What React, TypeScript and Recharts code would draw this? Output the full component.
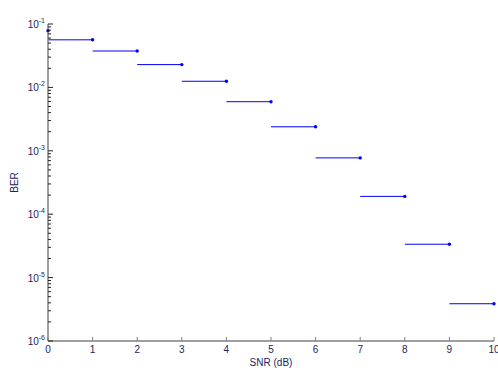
import React from "react";
import { ComposedChart, Line, XAxis, YAxis, Label } from "recharts";

// theoretical BPSK/QPSK bit error rate per SNR step
const snrDb = [0, 1, 2, 3, 4, 5, 6, 7, 8, 9, 10];
const ber = [
  0.0786, 0.0563, 0.0375, 0.0229, 0.0125, 0.00595, 0.00239, 0.000773,
  0.000191, 0.0000336, 0.00000387,
];
const xTicks = [0, 1, 2, 3, 4, 5, 6, 7, 8, 9, 10];
const decadeTicks = [1e-6, 1e-5, 1e-4, 1e-3, 1e-2, 1e-1];
const minorSteps = [2, 3, 4, 5, 6, 7, 8, 9];

const AXIS = "#7f7f7f";
const TEXT = "#24245a";
const FONT = "'Liberation Sans', Arial, sans-serif";

const yTicks = [
  ...decadeTicks,
  ...decadeTicks.slice(0, -1).flatMap((d) => minorSteps.map((m) => d * m)),
].sort((a, b) => a - b);

// horizontal steps: segment i..i+1 at ber[i+1], dot on the right end
const stepData: { snr: number; ber: number | null; end?: boolean }[] = [
  { snr: snrDb[0], ber: ber[0], end: true },
  { snr: snrDb[0], ber: null },
];
for (let i = 0; i < snrDb.length - 1; i++) {
  stepData.push({ snr: snrDb[i], ber: ber[i + 1] });
  stepData.push({ snr: snrDb[i + 1], ber: ber[i + 1], end: true });
  stepData.push({ snr: snrDb[i + 1], ber: null });
}

const isDecade = (v: number) => {
  const l = Math.log10(v);
  return Math.abs(l - Math.round(l)) < 1e-6;
};

const LeftTick = (props: any) => {
  const { x, y, payload } = props;
  const major = isDecade(payload.value);
  const exp = Math.round(Math.log10(payload.value));
  return (
    <g>
      <line x1={x} x2={x + (major ? 5 : 3)} y1={y} y2={y} stroke="#222" />
      {major && (
        <text x={x - 3} y={y + 4} textAnchor="end" fontSize={10} fill={TEXT} fontFamily={FONT}>
          10
          <tspan dy={-5} fontSize={7}>{exp}</tspan>
        </text>
      )}
    </g>
  );
};

const RightTick = (props: any) => {
  const { x, y, payload } = props;
  const major = isDecade(payload.value);
  return <line x1={x} x2={x - (major ? 5 : 3)} y1={y} y2={y} stroke="#222" />;
};

const BottomTick = (props: any) => {
  const { x, y, payload } = props;
  return (
    <g>
      <line x1={x} x2={x} y1={y} y2={y - 4} stroke={AXIS} />
      <text x={x} y={y + 12} textAnchor="middle" fontSize={10} fill={TEXT} fontFamily={FONT}>
        {payload.value}
      </text>
    </g>
  );
};

const TopTick = (props: any) => {
  const { x, y } = props;
  return <line x1={x} x2={x} y1={y} y2={y + 3} stroke={AXIS} />;
};

const StepDot = (props: any) => {
  const { cx, cy, payload, index } = props;
  if (!payload.end || cy == null) return <g key={`d${index}`} />;
  return <circle key={`d${index}`} cx={cx} cy={cy} r={1.7} fill="#0000ff" />;
};

export default function App() {
  return (
    <div style={{ position: "absolute", left: 0, top: 0, background: "#fff" }}>
      <ComposedChart
        width={498}
        height={372}
        data={stepData}
        margin={{ top: 24, right: 4, bottom: 0, left: 0 }}
      >
        <XAxis
          dataKey="snr"
          type="number"
          domain={[0, 10]}
          ticks={xTicks}
          interval={0}
          height={31}
          tickSize={0}
          tickMargin={0}
          tick={<BottomTick />}
          axisLine={{ stroke: AXIS, strokeWidth: 1.5 }}
          tickLine={false}
        >
          <Label
            content={({ viewBox }: any) => (
              <text
                x={viewBox.x + viewBox.width / 2}
                y={366}
                textAnchor="middle"
                fontSize={10}
                fill={TEXT}
                fontFamily={FONT}
              >
                SNR (dB)
              </text>
            )}
          />
        </XAxis>
        <XAxis
          xAxisId="top"
          orientation="top"
          type="number"
          domain={[0, 10]}
          ticks={xTicks}
          interval={0}
          allowDataOverflow
          height={0}
          tickSize={0}
          tickMargin={0}
          tick={<TopTick />}
          axisLine={{ stroke: AXIS, strokeWidth: 1.5 }}
          tickLine={false}
        >
          <Label
            content={({ viewBox }: any) => (
              <text
                x={viewBox.x + viewBox.width / 2}
                y={16}
                textAnchor="middle"
                fontSize={11}
                fill="#222"
                fontFamily={FONT}
              >
                BPSK/QPSK
              </text>
            )}
          />
        </XAxis>
        <YAxis
          type="number"
          scale="log"
          domain={[1e-6, 1e-1]}
          ticks={yTicks}
          interval={0}
          width={48}
          tickSize={0}
          tickMargin={0}
          tick={<LeftTick />}
          axisLine={{ stroke: AXIS, strokeWidth: 1.5 }}
          tickLine={false}
        >
          <Label
            content={({ viewBox }: any) => {
              const cy = viewBox.y + viewBox.height / 2;
              return (
                <text
                  x={18}
                  y={cy}
                  transform={`rotate(-90 18 ${cy})`}
                  textAnchor="middle"
                  fontSize={10}
                  fill={TEXT}
                  fontFamily={FONT}
                >
                  BER
                </text>
              );
            }}
          />
        </YAxis>
        <YAxis
          yAxisId="right"
          orientation="right"
          type="number"
          scale="log"
          domain={[1e-6, 1e-1]}
          ticks={yTicks}
          interval={0}
          allowDataOverflow
          width={0}
          tickSize={0}
          tickMargin={0}
          tick={<RightTick />}
          axisLine={{ stroke: AXIS, strokeWidth: 1.5 }}
          tickLine={false}
        />
        <Line
          dataKey="ber"
          stroke="#0000ff"
          strokeWidth={1}
          dot={StepDot}
          activeDot={false}
          connectNulls={false}
          isAnimationActive={false}
        />
      </ComposedChart>
    </div>
  );
}
